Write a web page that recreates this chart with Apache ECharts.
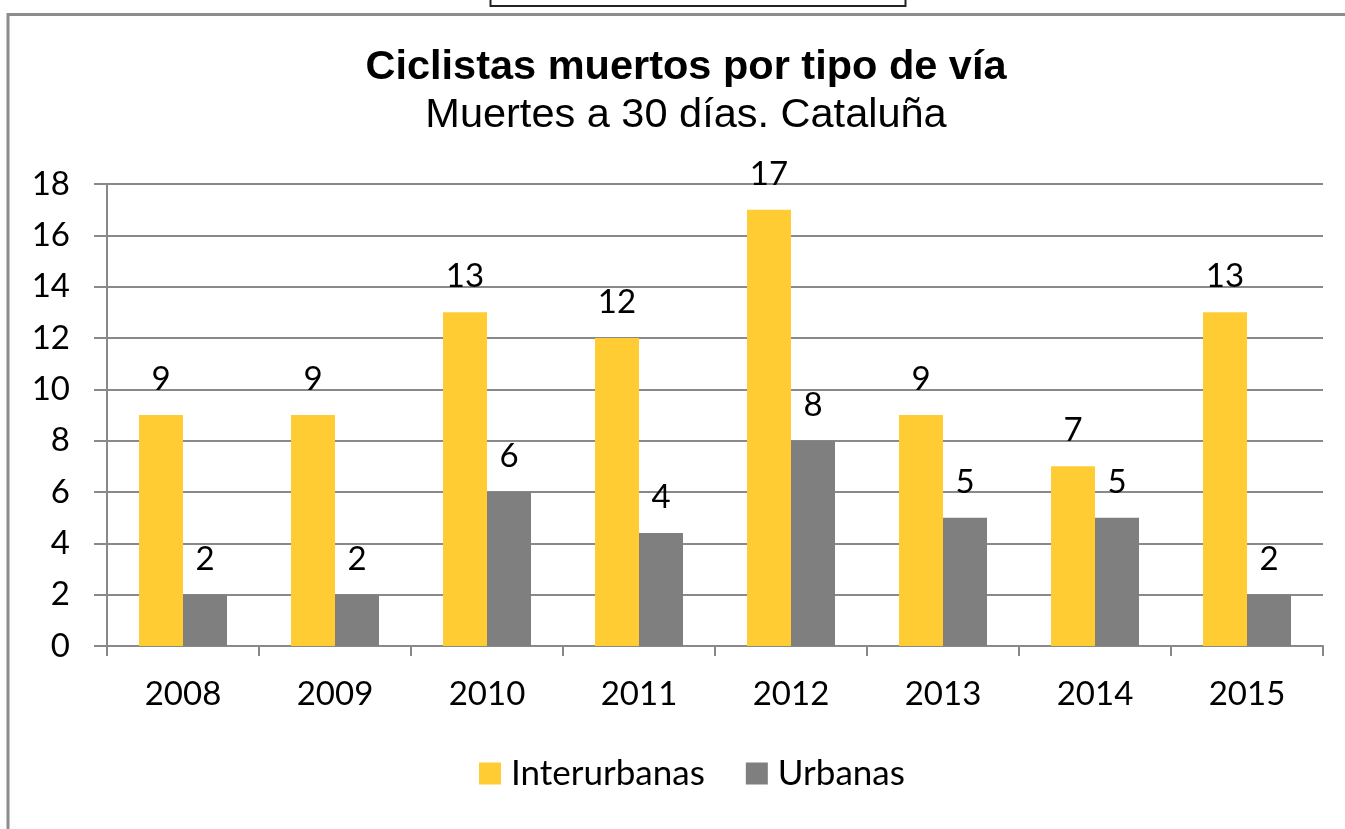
<!DOCTYPE html>
<html lang="es">
<head>
<meta charset="utf-8">
<title>Ciclistas muertos por tipo de vía</title>
<script src="https://cdn.jsdelivr.net/npm/echarts@6/dist/echarts.min.js"></script>
<style>
  html, body { margin: 0; padding: 0; background: #fff; }
  #chart { width: 1345px; height: 829px; }
</style>
</head>
<body>
<div id="chart"></div>
<script>
var years = ['2008', '2009', '2010', '2011', '2012', '2013', '2014', '2015'];
var interurbanas = [9, 9, 13, 12, 17, 9, 7, 13];
var urbanas = [2, 2, 6, 4.4, 8, 5, 5, 2];
var yTicks = { min: 0, max: 18, interval: 2 };

var labelFont = 'Lato, "Open Sans", sans-serif';
var gridColor = '#898989';

var chart = echarts.init(document.getElementById('chart'));

chart.setOption({
  animation: false,
  graphic: [
    // outer frame of the chart
    {
      type: 'rect', silent: true,
      shape: { x: 8, y: 14.5, width: 1400, height: 900 },
      style: { fill: 'none', stroke: '#8c8c8c', lineWidth: 3 }
    },
    // small box at the top edge
    {
      type: 'rect', silent: true,
      shape: { x: 490.5, y: -10, width: 415, height: 16 },
      style: { fill: '#fff', stroke: '#222', lineWidth: 2 }
    },
    {
      type: 'text', silent: true, x: 686, y: 68,
      style: {
        text: 'Ciclistas muertos por tipo de vía',
        font: 'bold 41.5px "Liberation Sans", Arial, sans-serif',
        fill: '#000', textAlign: 'center', textVerticalAlign: 'middle'
      }
    },
    {
      type: 'text', silent: true, x: 686, y: 116,
      style: {
        text: 'Muertes a 30 días. Cataluña',
        font: '41.5px "Liberation Sans", Arial, sans-serif',
        fill: '#000', textAlign: 'center', textVerticalAlign: 'middle'
      }
    }
  ],
  legend: {
    bottom: 33,
    left: 474,
    itemWidth: 22,
    itemHeight: 22,
    itemGap: 41,
    icon: 'rect',
    textStyle: { fontFamily: labelFont, fontSize: 35, color: '#000', padding: [0, 0, 0, 5] },
    data: ['Interurbanas', 'Urbanas']
  },
  grid: { left: 107, right: 22, top: 184, bottom: 183 },
  xAxis: {
    type: 'category',
    data: years,
    axisLine: { lineStyle: { color: gridColor, width: 2 } },
    axisTick: { show: true, length: 10, alignWithLabel: false, lineStyle: { color: gridColor, width: 2 } },
    axisLabel: { fontFamily: labelFont, fontSize: 33, color: '#000', margin: 32 }
  },
  yAxis: {
    type: 'value',
    min: yTicks.min,
    max: yTicks.max,
    interval: yTicks.interval,
    axisLine: { show: true, lineStyle: { color: gridColor, width: 2 } },
    axisTick: { show: true, length: 13, lineStyle: { color: gridColor, width: 2 } },
    splitLine: { lineStyle: { color: gridColor, width: 2 } },
    axisLabel: { fontFamily: labelFont, fontSize: 33, color: '#000', margin: 37 }
  },
  series: [
    {
      name: 'Interurbanas',
      type: 'bar',
      data: interurbanas,
      barWidth: 44,
      barGap: '0%',
      itemStyle: { color: '#FFCD33' },
      label: {
        show: true, position: 'top', distance: 19,
        fontFamily: labelFont, fontSize: 33, color: '#000',
        formatter: function (p) { return Math.round(p.value); }
      }
    },
    {
      name: 'Urbanas',
      type: 'bar',
      data: urbanas,
      barWidth: 44,
      barGap: '0%',
      itemStyle: { color: '#7F7F7F' },
      label: {
        show: true, position: 'top', distance: 19,
        fontFamily: labelFont, fontSize: 33, color: '#000',
        formatter: function (p) { return Math.round(p.value); }
      }
    }
  ]
});
</script>
</body>
</html>
